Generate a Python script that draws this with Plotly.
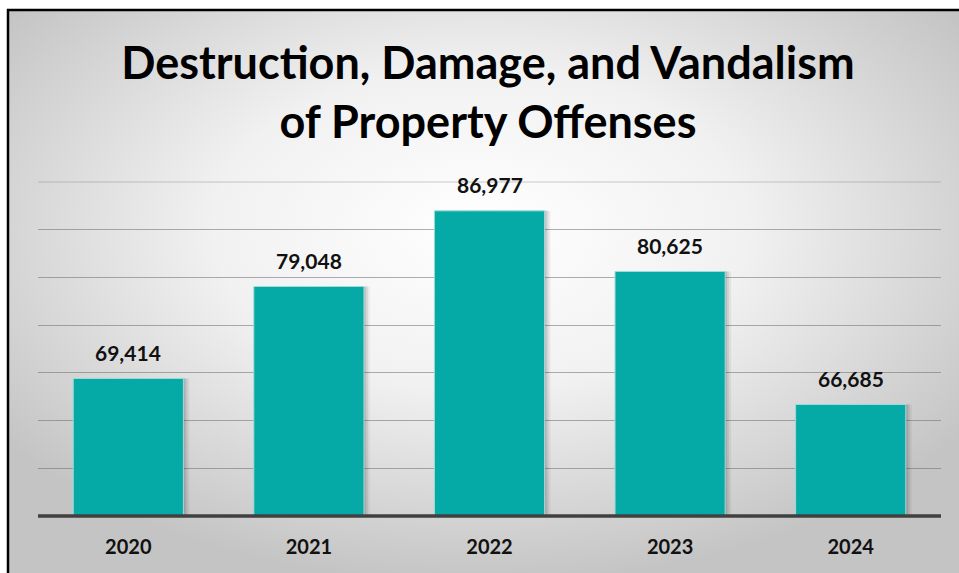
import plotly.graph_objects as go
import base64

years = ["2020", "2021", "2022", "2023", "2024"]
offenses = [69414, 79048, 86977, 80625, 66685]
labels = [f"{v:,}" for v in offenses]

W, H = 959, 573
L, R, T, B = 38, 18, 182, 57
pw, ph = W - L - R, H - T - B
FONT = "Lato, Open Sans, sans-serif"
GRID = "rgba(110,110,110,0.55)"

def px_x(px):
    return (px - L) / pw

def px_y(py):
    return (H - B - py) / ph

svg = f'''<svg xmlns="http://www.w3.org/2000/svg" width="{W}" height="{H}" viewBox="0 0 {W} {H}">
<defs><radialGradient id="g" cx="50%" cy="40%" r="62%" gradientUnits="objectBoundingBox">
<stop offset="0%" stop-color="#ffffff"/><stop offset="45%" stop-color="#f1f1f1"/><stop offset="100%" stop-color="#c4c4c4"/>
</radialGradient></defs><rect width="{W}" height="{H}" fill="url(#g)"/>
<rect x="0" y="0" width="8" height="{H}" fill="#ffffff"/><rect x="0" y="0" width="{W}" height="10" fill="#ffffff"/></svg>'''
bg = "data:image/svg+xml;base64," + base64.b64encode(svg.encode()).decode()

fig = go.Figure()
# soft shadow
for dx, a in [(2, 0.10), (4, 0.08), (6, 0.05)]:
    fig.add_trace(go.Bar(
        x=years, y=offenses, width=0.61, offset=-0.305 + dx / (pw / 5),
        marker=dict(color=f"rgba(0,0,0,{a})", line=dict(width=0)),
        hoverinfo="skip", showlegend=False,
    ))
fig.add_trace(go.Bar(
    x=years, y=offenses, width=0.61, offset=-0.305,
    marker=dict(color="#05A9A5", line=dict(color="#9fdcd9", width=1)),
    showlegend=False,
))

annotations = [
    dict(x=i, y=v, text=f"<b>{lab}</b>", xref="x", yref="y", showarrow=False,
         yshift=26, font=dict(family=FONT, size=21, color="#111111"))
    for i, (v, lab) in enumerate(zip(offenses, labels))
]

fig.update_layout(
    width=W, height=H,
    margin=dict(l=L, r=R, t=T, b=B),
    barmode="overlay",
    paper_bgcolor="#ffffff",
    plot_bgcolor="rgba(0,0,0,0)",
    title=dict(
        text="<b>Destruction, Damage, and Vandalism<br>of Property Offenses</b>",
        x=488 / W, xanchor="center", y=1 - 79 / H, yanchor="middle",
        font=dict(family=FONT, size=45, color="#000000"),
    ),
    xaxis=dict(
        type="category", categoryorder="array", categoryarray=years,
        range=[-0.5, len(years) - 0.5],
        showgrid=False, showline=False, zeroline=False, ticks="",
        tickfont=dict(family=FONT, size=20, color="#111111", weight="bold"),
        ticklabelstandoff=17,
    ),
    yaxis=dict(
        range=[55000, 90000], dtick=5000, showticklabels=False,
        showgrid=True, gridcolor=GRID, gridwidth=1,
        zeroline=False, showline=False,
    ),
    annotations=annotations,
    images=[dict(source=bg, xref="paper", yref="paper", x=px_x(0), y=px_y(0),
                 sizex=W / pw, sizey=H / ph, xanchor="left", yanchor="top",
                 sizing="stretch", layer="below")],
    shapes=[
        dict(type="line", xref="paper", yref="paper", x0=0, x1=1, y0=1, y1=1,
             line=dict(color="rgba(110,110,110,0.35)", width=1), layer="below"),
        dict(type="line", xref="paper", yref="paper", x0=0, x1=1, y0=0, y1=0,
             line=dict(color="#404040", width=3.5)),
        dict(type="line", xref="paper", yref="paper", x0=px_x(8), x1=px_x(8),
             y0=px_y(9), y1=px_y(600), line=dict(color="#000000", width=2.5)),
        dict(type="line", xref="paper", yref="paper", x0=px_x(7), x1=px_x(960),
             y0=px_y(10), y1=px_y(10), line=dict(color="#000000", width=2.5)),
    ],
)

fig.write_html("out.html", config={"displayModeBar": False},
               post_script="document.body.style.margin='0';document.body.style.overflow='hidden';")
